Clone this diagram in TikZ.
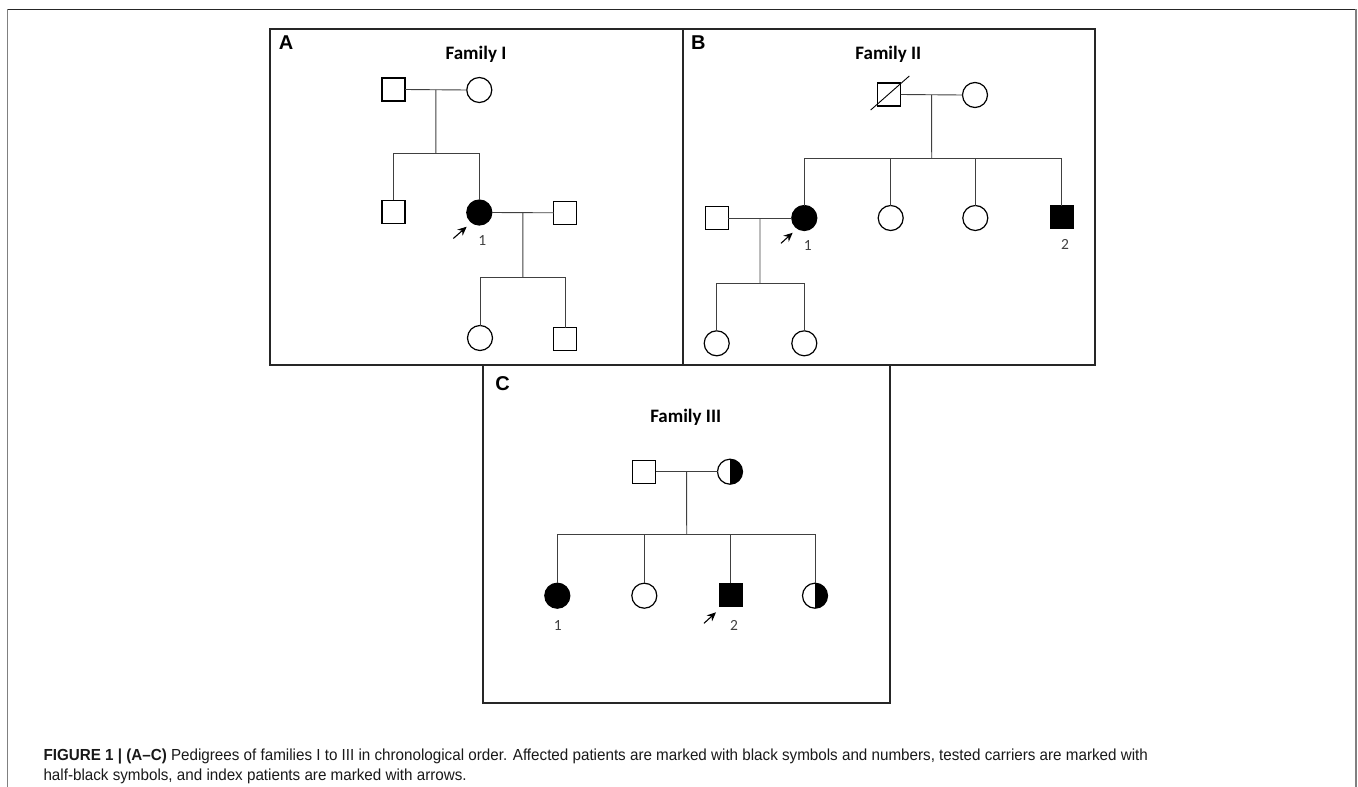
\documentclass[tikz,border=0pt]{standalone}
\usepackage{fontspec}
\setmainfont{Carlito}
\newfontfamily\capfont[FakeStretch=0.95]{Liberation Sans}
\newfontfamily\lblfont{Liberation Sans}
\usetikzlibrary{arrows.meta,calc}
\begin{document}
\begin{tikzpicture}[x=1pt,y=-1pt,
 sym/.style={draw=black,line width=1.2pt,inner sep=0pt,outer sep=0pt},
 male/.style={sym,rectangle,minimum size=23pt},
 female/.style={sym,circle,minimum size=25pt},
 aff/.style={fill=black},
 half/.style={path picture={\fill[black] (path picture bounding box.north) rectangle (path picture bounding box.south east);}},
 pline/.style={draw=black!75,line width=0.9pt},
 panel/.style={draw=black!85,line width=1.3pt},
 plabel/.style={font=\lblfont\bfseries\fontsize{20}{20}\selectfont},
 ftitle/.style={font=\bfseries\fontsize{19}{19}\selectfont},
 num/.style={font=\fontsize{15.5}{15.5}\selectfont,text=black!75,inner sep=0pt},
 idx/.style={-{Stealth[length=9pt,width=8pt]},line width=1.1pt},
]
\useasboundingbox (0,0) rectangle (1358,787);
% outer frame
\draw[black!85,line width=1pt] (7.5,9) -- (1356,9);
\draw[black!50,line width=1.5pt] (7.5,9) -- (7.5,787);
\draw[black!50,line width=1.5pt] (1356,9) -- (1356,787);
% panels
\draw[panel] (270,29) rectangle (683,365);
\draw[panel] (683,29) rectangle (1095,365);
\draw[panel] (483,365) rectangle (890,703);
\node[plabel] (lA) at (286,43) {A};
\node[plabel] (lB) at (698.3,43) {B};
\node[plabel] (lC) at (502.7,383.3) {C};
\node[ftitle] (tA) at (476,54) {Family I};
\node[ftitle] (tB) at (888.3,54) {Family II};
\node[ftitle] (tC) at (685.7,417.3) {Family III};

% ---------- Family I ----------
\node[male] (a1) at (393.5,89.5) {};
\node[female] (a2) at (479.3,90) {};
\draw[pline] (a1.east) -- (a2.west);
\coordinate (a12) at ($(a1.east)!0.5!(a2.west)$);
\coordinate (barA) at (435.8,153.7);
\draw[pline] (a12) -- (barA);
\node[male] (a3) at (393.5,211.7) {};
\node[female,aff] (a4) at (479.3,212.5) {};
\draw[pline] (a3.north) |- (barA) -| (a4.north);
\node[male] (a5) at (565.3,212.8) {};
\draw[pline] (a4.east) -- (a5.west);
\coordinate (a45) at ($(a4.east)!0.5!(a5.west)$);
\coordinate (barA2) at (522.8,277.3);
\draw[pline] (a45) -- (barA2);
\node[female] (a6) at (480,338) {};
\node[male] (a7) at (565.3,339) {};
\draw[pline] (a6.north) |- (barA2) -| (a7.north);
\coordinate (arA) at ($(a4)+(-26,26)$);
\draw[idx] (arA) -- ($(a4)+(-12.6,14.2)$);
\node[num] (nA1) at ($(a4)+(3,28.2)$) {1};

% ---------- Family II ----------
\node[male] (b1) at (889.2,94.5) {};
\draw[line width=0.9pt] ($(b1)+(-18.5,15.5)$) -- ($(b1)+(20.1,-18.5)$);
\node[female] (b2) at (975,95) {};
\draw[pline] (b1.east) -- (b2.west);
\coordinate (b12) at ($(b1.east)!0.5!(b2.west)$);
\coordinate (barB) at (931.7,158.3);
\draw[pline] (b12) -- (barB);
\node[female,aff] (b3) at (804.3,218) {};
\node[female] (b4) at (890.7,218) {};
\node[female] (b5) at (975.3,218) {};
\node[male,aff] (b6) at (1061.8,217) {};
\draw[pline] (b3.north) |- (barB) -| (b6.north);
\draw[pline] (b4.north) -- (b4.north |- barB);
\draw[pline] (b5.north) -- (b5.north |- barB);
\node[male] (b7) at (716.7,218) {};
\draw[pline] (b7.east) -- (b3.west);
\coordinate (b73) at ($(b7.east)!0.5!(b3.west)$);
\coordinate (barB2) at (760,283.3);
\draw[pline] (b73) -- (barB2);
\node[female] (b8) at (716.7,343.3) {};
\node[female] (b9) at (804.3,343.3) {};
\draw[pline] (b8.north) |- (barB2) -| (b9.north);
\coordinate (arB) at ($(b3)+(-23.3,25.3)$);
\draw[idx] (arB) -- ($(b3)+(-11.6,14.7)$);
\node[num] (nB1) at ($(b3)+(3.4,28)$) {1};
\node[num] (nB2) at ($(b6)+(3.2,27.3)$) {2};

% ---------- Family III ----------
\node[male] (c1) at (644.3,471.7) {};
\node[female,half] (c2) at (730,471.7) {};
\draw[pline] (c1.east) -- (c2.west);
\coordinate (c12) at ($(c1.east)!0.5!(c2.west)$);
\coordinate (barC) at (686.7,534.3);
\draw[pline] (c12) -- (barC);
\node[female,aff] (d1) at (557.3,595.7) {};
\node[female] (d2) at (644.3,595.7) {};
\node[male,aff] (d3) at (730.7,594.7) {};
\node[female,half] (d4) at (815,595.7) {};
\draw[pline] (d1.north) |- (barC) -| (d4.north);
\draw[pline] (d2.north) -- (d2.north |- barC);
\draw[pline] (d3.north) -- (d3.north |- barC);
\coordinate (arC) at ($(d3)+(-26.7,28.6)$);
\draw[idx] (arC) -- ($(d3)+(-14.7,17.6)$);
\node[num] (nC1) at ($(d1)+(0.4,30)$) {1};
\node[num] (nC2) at ($(d3)+(3.3,31)$) {2};

% ---------- caption ----------
\node[anchor=base west,inner sep=0pt,text=black!90,font=\capfont\fontsize{16}{19}\selectfont] (cap1) at (43.3,760.7)
 {\textbf{FIGURE 1 | (A–C)} Pedigrees of families I to III in chronological order. Affected patients are marked with black symbols and numbers, tested carriers are marked with};
\node[anchor=base west,inner sep=0pt,text=black!90,font=\capfont\fontsize{16}{19}\selectfont] (cap2) at (43.3,780.7)
 {half-black symbols, and index patients are marked with arrows.};
\end{tikzpicture}
\end{document}
